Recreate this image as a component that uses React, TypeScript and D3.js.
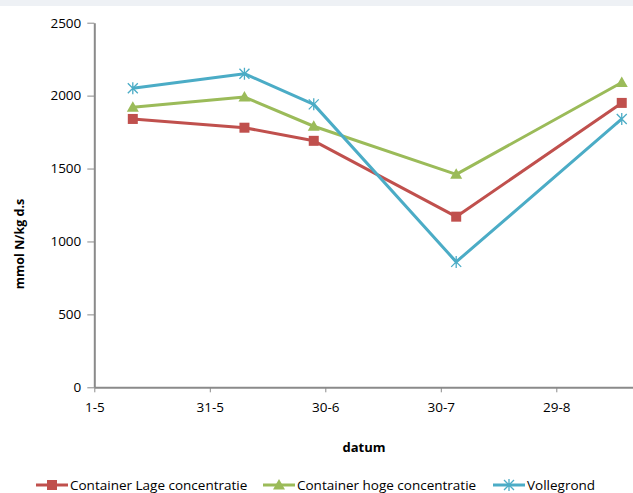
import * as d3 from "d3";
import { useEffect, useRef } from "react";

const dates = ["2011-05-11", "2011-06-09", "2011-06-27", "2011-08-03", "2011-09-15"];
const lage = [1840, 1780, 1690, 1170, 1950];
const hoge = [1920, 1990, 1790, 1460, 2090];
const vollegrond = [2050, 2150, 1940, 860, 1840];
const seriesNames = ["Container Lage concentratie", "Container hoge concentratie", "Vollegrond"];
const yTicks = [0, 500, 1000, 1500, 2000, 2500];
const xTickDates = ["2011-05-01", "2011-05-31", "2011-06-30", "2011-07-30", "2011-08-29"];
const xTickLabels = ["1-5", "31-5", "30-6", "30-7", "29-8"];

const colors = ["#c0504d", "#9bbb59", "#4bacc6"];
const font = "'Open Sans', 'Noto Sans', sans-serif";

const parse = d3.timeParse("%Y-%m-%d");

function Marker(props: { kind: number; x: number; y: number; color: string }) {
    const { kind, x, y, color } = props;
    if (kind === 0) {
        return <rect x={x - 5} y={y - 5} width={10} height={10} fill={color} />;
    }
    if (kind === 1) {
        return <path d={`M${x},${y - 6}L${x + 6},${y + 4.5}L${x - 6},${y + 4.5}Z`} fill={color} />;
    }
    const r = 5;
    return (
        <path
            d={`M${x - r},${y - r}L${x + r},${y + r}M${x - r},${y + r}L${x + r},${y - r}M${x},${y - r - 1}L${x},${y + r + 1}`}
            stroke={color}
            strokeWidth={1.3}
            fill="none"
        />
    );
}

function App() {
    const width = 633;
    const height = 493;
    const gx = useRef<SVGGElement>(null);
    const gy = useRef<SVGGElement>(null);

    const start = parse("2011-05-01") as Date;
    const x = d3.scaleTime()
        .domain([start, d3.timeDay.offset(start, 150)])
        .range([94.3, 94.3 + 150 * 3.85]);
    const y = d3.scaleLinear().domain([0, 2500]).range([387.3, 22.7]);

    const series = [lage, hoge, vollegrond];
    const line = d3.line<[Date, number]>()
        .x(d => x(d[0]))
        .y(d => y(d[1]));

    useEffect(() => {
        const tickDates = xTickDates.map(d => parse(d) as Date);
        const ax = d3.select(gx.current!);
        ax.call(d3.axisBottom(x)
            .tickValues(tickDates)
            .tickFormat((_, i) => xTickLabels[i])
            .tickSize(5)
            .tickSizeOuter(0)
            .tickPadding(10));
        ax.select(".domain").attr("stroke", "#8a8a8a").attr("stroke-width", 2);
        ax.selectAll(".tick line").attr("stroke", "#8a8a8a");
        ax.selectAll("text")
            .style("font-family", font)
            .style("font-size", "13.5px")
            .attr("fill", "#000");

        const ay = d3.select(gy.current!);
        ay.call(d3.axisLeft(y)
            .tickValues(yTicks)
            .tickFormat(d3.format("d"))
            .tickSize(7)
            .tickSizeOuter(0)
            .tickPadding(6));
        ay.select(".domain").attr("stroke", "#8a8a8a").attr("stroke-width", 2);
        ay.selectAll(".tick line").attr("stroke", "#8a8a8a");
        ay.selectAll("text")
            .style("font-family", font)
            .style("font-size", "13.5px")
            .attr("fill", "#000");
    }, [x, y]);

    const legendX = [36, 263, 493];

    return (
        <svg width={width} height={height} style={{ position: "absolute", left: 0, top: 0, background: "#fff" }}>
            <rect x={0} y={0} width={width} height={6} fill="#eef1f5" />
            <g ref={gx} transform={`translate(0, ${y(0)})`} />
            <g ref={gy} transform={`translate(${x(start)}, 0)`} />

            {/* y-as titel */}
            <text
                transform={`translate(24, 244) rotate(-90)`}
                textAnchor="middle"
                fontFamily={font}
                fontWeight="bold"
                fontSize="12.5px"
            >
                mmol N/kg d.s
            </text>
            <text x={364} y={451.5} textAnchor="middle" fontFamily={font} fontWeight="bold" fontSize="13px">
                datum
            </text>

            {series.map((vals, si) => {
                const pts = dates.map((d, i) => [parse(d) as Date, vals[i]] as [Date, number]);
                return (
                    <g key={si}>
                        <path d={line(pts) ?? ""} fill="none" stroke={colors[si]} strokeWidth={3} strokeLinejoin="round" />
                        {pts.map((p, i) => (
                            <Marker key={i} kind={si} x={x(p[0])} y={y(p[1])} color={colors[si]} />
                        ))}
                    </g>
                );
            })}

            {seriesNames.map((name, i) => (
                <g key={name} transform={`translate(${legendX[i]}, 485)`}>
                    <line x1={0} x2={32} y1={0} y2={0} stroke={colors[i]} strokeWidth={3} />
                    <Marker kind={i} x={16} y={0} color={colors[i]} />
                    <text x={34} y={4.5} fontFamily={font} fontSize="13.5px">{name}</text>
                </g>
            ))}
        </svg>
    );
}

export default App;
